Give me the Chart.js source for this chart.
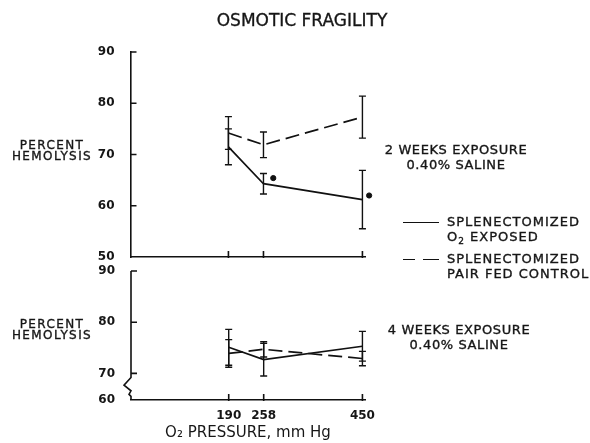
<!DOCTYPE html>
<html>
<head>
    <title>Osmotic Fragility</title>
    <script src="https://cdn.jsdelivr.net/npm/chart.js@4.4.1/dist/chart.umd.min.js"></script>
    <style>
        body {
            margin: 0;
            background-color: white;
            font-family: "DejaVu Sans", sans-serif;
            color: #161616;
        }
        .figure {
            position: relative;
            width: 590px;
            height: 443px;
            overflow: hidden;
        }
        .figure canvas {
            position: absolute;
            left: 0;
            top: 0;
        }
        .note {
            position: absolute;
            white-space: nowrap;
            line-height: 15px;
            -webkit-text-stroke: 0.35px #161616;
        }
        .title {
            left: 0;
            width: 604px;
            top: 10px;
            text-align: center;
            font-size: 17px;
            line-height: 20px;
        }
        .ylabel {
            left: 4px;
            width: 96px;
            text-align: center;
            font-size: 12px;
            letter-spacing: 1.4px;
            line-height: 11px;
        }
        .panel-note {
            left: 378px;
            width: 156px;
            text-align: center;
            font-size: 13px;
            letter-spacing: 0.6px;
        }
        .legend-text {
            left: 447px;
            font-size: 13px;
            letter-spacing: 1px;
            line-height: 15px;
        }
        .legend-line {
            position: absolute;
            border-top: 1.6px solid #111;
            height: 0;
        }
    </style>
</head>
<body>
    <div class="figure">
        <canvas id="topPanel" width="590" height="443"></canvas>
        <canvas id="bottomPanel" width="590" height="443"></canvas>

        <div class="note title">OSMOTIC FRAGILITY</div>

        <div class="note ylabel" style="top:140px">PERCENT<br>HEMOLYSIS</div>
        <div class="note ylabel" style="top:319px">PERCENT<br>HEMOLYSIS</div>

        <div class="note panel-note" style="top:142px">2 WEEKS EXPOSURE<br>0.40% SALINE</div>
        <div class="note panel-note" style="top:322px;left:381px">4 WEEKS EXPOSURE<br>0.40% SALINE</div>

        <div class="legend-line" style="left:403px;top:222px;width:36px"></div>
        <div class="note legend-text" style="top:214px">SPLENECTOMIZED<br>O<sub style="font-size:9px;vertical-align:-3px">2</sub> EXPOSED</div>

        <div class="legend-line" style="left:403px;top:259px;width:12px"></div>
        <div class="legend-line" style="left:423px;top:259px;width:16px"></div>
        <div class="note legend-text" style="top:251px">SPLENECTOMIZED<br>PAIR FED CONTROL</div>
    </div>

    <script>
        // O2 pressure, mm Hg
        const pressures = [190, 258, 450];

        // 2 weeks exposure
        const twoWeekExposed = [71.5, 64.3, 61.2];
        const twoWeekExposedErr = [3.5, 2.0, 5.7];
        const twoWeekControl = [74.2, 71.9, 77.3];
        const twoWeekControlErr = [3.2, 2.5, 4.1];
        const twoWeekSignif = [{x: 277, y: 65.4}, {x: 463, y: 62.0}];

        // 4 weeks exposure
        const fourWeekExposed = [75.1, 72.7, 75.3];
        const fourWeekExposedErr = [3.5, 3.2, 2.9];
        const fourWeekControl = [73.9, 74.7, 72.9];
        const fourWeekControlErr = [2.7, 1.5, 1.4];

        // axis ticks
        const topYTicks = [50, 60, 70, 80, 90];
        const bottomYTicks = [64.8, 70, 80, 90];
        const bottomYTickLabels = ['60', '70', '80', '90'];

        const ink = '#111';
        const tickFont = {family: 'DejaVu Sans', size: 12, weight: 'bold'};

        function points(values) {
            return values.map((v, i) => ({x: pressures[i], y: v}));
        }

        // error bars and inward tick marks
        const markPlugin = {
            id: 'marks',
            afterDatasetsDraw(chart) {
                const ctx = chart.ctx;
                const x = chart.scales.x, y = chart.scales.y;
                const area = chart.chartArea;
                const opts = chart.options.plugins.marks;
                ctx.save();
                ctx.strokeStyle = ink;
                ctx.lineWidth = 1.4;
                ctx.setLineDash([]);
                chart.data.datasets.forEach(ds => {
                    if (!ds.errors) return;
                    ds.data.forEach((p, i) => {
                        const px = x.getPixelForValue(p.x);
                        const hi = y.getPixelForValue(p.y + ds.errors[i]);
                        const lo = y.getPixelForValue(p.y - ds.errors[i]);
                        ctx.beginPath();
                        ctx.moveTo(px, hi); ctx.lineTo(px, lo);
                        ctx.moveTo(px - 3.5, hi); ctx.lineTo(px + 3.5, hi);
                        ctx.moveTo(px - 3.5, lo); ctx.lineTo(px + 3.5, lo);
                        ctx.stroke();
                    });
                });
                ctx.lineWidth = 1.6;
                ctx.beginPath();
                opts.yMarks.forEach(v => {
                    const py = y.getPixelForValue(v);
                    ctx.moveTo(area.left, py); ctx.lineTo(area.left + 6, py);
                });
                pressures.forEach(v => {
                    const px = x.getPixelForValue(v);
                    ctx.moveTo(px, area.bottom + 1); ctx.lineTo(px, area.bottom - 6);
                });
                ctx.stroke();
                if (opts.breakAxis) {
                    const l = area.left;
                    ctx.beginPath();
                    ctx.moveTo(l, area.top);
                    ctx.lineTo(l, y.getPixelForValue(69.2));
                    ctx.lineTo(l - 7, y.getPixelForValue(67.7));
                    ctx.lineTo(l, y.getPixelForValue(66.6));
                    ctx.lineTo(l - 2, y.getPixelForValue(65.9));
                    ctx.lineTo(l, y.getPixelForValue(65.5));
                    ctx.lineTo(l, area.bottom);
                    ctx.stroke();
                }
                ctx.restore();
            }
        };

        function makeDatasets(exposed, exposedErr, control, controlErr) {
            return [{
                label: 'SPLENECTOMIZED O2 EXPOSED',
                data: points(exposed),
                errors: exposedErr,
                borderColor: ink,
                borderWidth: 1.7,
                pointRadius: 0,
                tension: 0
            }, {
                label: 'SPLENECTOMIZED PAIR FED CONTROL',
                data: points(control),
                errors: controlErr,
                borderColor: ink,
                borderWidth: 1.7,
                borderDash: [14, 6],
                pointRadius: 0,
                tension: 0
            }];
        }

        function baseOptions(padding) {
            return {
                responsive: false,
                animation: false,
                devicePixelRatio: 1,
                layout: {padding: padding},
                plugins: {
                    legend: {display: false},
                    tooltip: {enabled: false},
                    marks: {yMarks: [], breakAxis: false}
                },
                scales: {
                    x: {
                        type: 'linear',
                        min: 0,
                        max: 455,
                        grid: {display: false},
                        border: {display: true, color: ink, width: 1.6},
                        ticks: {display: false}
                    },
                    y: {
                        grid: {display: false},
                        border: {display: true, color: ink, width: 1.6},
                        ticks: {color: '#161616', font: tickFont, padding: 8},
                        afterFit: s => { s.width = 40; }
                    }
                }
            };
        }

        // top panel: 2 weeks
        const topOpts = baseOptions({left: 90.5, right: 225, top: 52, bottom: 186});
        topOpts.scales.x.afterFit = s => { s.height = 0; };
        topOpts.scales.y.min = 50;
        topOpts.scales.y.max = 90;
        topOpts.scales.y.afterBuildTicks = s => { s.ticks = topYTicks.map(v => ({value: v})); };
        topOpts.plugins.marks.yMarks = topYTicks.slice(1);

        const topSets = makeDatasets(twoWeekExposed, twoWeekExposedErr, twoWeekControl, twoWeekControlErr);
        topSets.push({
            type: 'scatter',
            label: 'significant',
            data: twoWeekSignif,
            backgroundColor: ink,
            borderColor: ink,
            pointRadius: 2.6,
            showLine: false,
            clip: false
        });

        new Chart(document.getElementById('topPanel'), {
            type: 'line',
            data: {datasets: topSets},
            options: topOpts,
            plugins: [markPlugin]
        });

        // bottom panel: 4 weeks
        const bottomOpts = baseOptions({left: 91, right: 225, top: 271, bottom: 0});
        bottomOpts.scales.x.afterBuildTicks = s => { s.ticks = pressures.map(v => ({value: v})); };
        bottomOpts.scales.x.ticks = {display: true, color: '#161616', font: tickFont, padding: 1, maxRotation: 0};
        bottomOpts.scales.x.title = {
            display: true,
            text: 'O\u2082 PRESSURE, mm Hg',
            color: '#161616',
            font: {family: 'DejaVu Sans', size: 15},
            padding: {top: 0, bottom: 1}
        };
        bottomOpts.scales.x.afterFit = s => { s.height = 43; };
        bottomOpts.scales.y.min = 64.8;
        bottomOpts.scales.y.max = 90;
        bottomOpts.scales.y.border = {display: false};
        bottomOpts.scales.y.afterBuildTicks = s => { s.ticks = bottomYTicks.map(v => ({value: v})); };
        bottomOpts.scales.y.ticks.callback = (value, i) => bottomYTickLabels[i];
        bottomOpts.plugins.marks.yMarks = bottomYTicks.slice(1);
        bottomOpts.plugins.marks.breakAxis = true;

        new Chart(document.getElementById('bottomPanel'), {
            type: 'line',
            data: {datasets: makeDatasets(fourWeekExposed, fourWeekExposedErr, fourWeekControl, fourWeekControlErr)},
            options: bottomOpts,
            plugins: [markPlugin]
        });
    </script>
</body>
</html>
